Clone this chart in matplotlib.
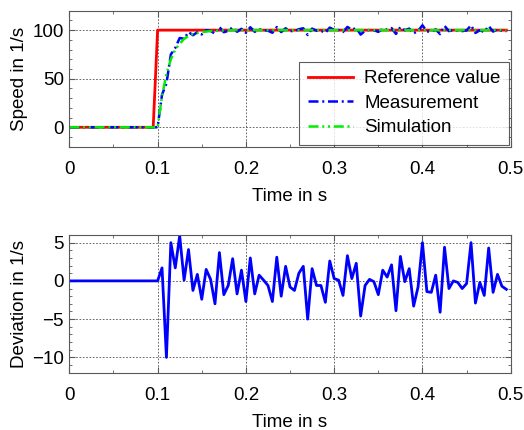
import numpy as np
import matplotlib
matplotlib.use('Agg')
import matplotlib.pyplot as plt
from matplotlib.ticker import MultipleLocator, FixedLocator, FixedFormatter

plt.rcParams['font.family'] = ['Liberation Sans', 'DejaVu Sans']

# sample times (5 ms steps)
time = np.linspace(0, 0.495, 100)

reference = [0]*20 + [100]*80

simulation = [0]*20 + [0, 32, 55, 70, 80, 86, 91, 94, 96, 97, 98, 98.5, 99, 99.3, 99.5, 99.7, 99.8] + [100]*63

measurement = [0]*20 + [0, 33.7, 45, 75, 81.7, 91.9, 91.1, 98.1, 94.75, 97.85, 95.6, 100, 99.2, 96.3, 103.2, 97.9, 99.2,
	102.9, 98.3, 101.4, 97.3, 103, 98.3, 100.75, 100.1, 99.4, 97.3,
	103.1, 98, 101.9, 99.2, 98.75, 101, 101.9, 95, 101.6, 99.4,
	99.4, 97.2, 102.6, 100.3, 100.1, 98.1, 103.3, 100.3, 102.3, 95.4,
	99.4, 100.2, 99.9, 98.2, 101.4, 100.5, 102.1, 96.1, 103.2, 99.9,
	101.6, 96.7, 99.2, 105, 98.6, 98.5, 100.75, 95.9, 104.4, 99,
	100, 99.8, 99, 99.65, 105, 97.1, 99.8, 98.1, 104.3, 98.5,
	100.85, 99.3, 98.9]

deviation = [0]*20 + [0, 1.7, -10, 5, 1.7, 5.9, 0.1, 4.1, -1.25, 0.85,
	-2.4, 1.5, 0.2, -3, 3.7, -1.8, -0.6, 2.9, -1.7, 1.4,
	-2.7, 3.0, -1.7, 0.75, 0.1, -0.6, -2.7, 3.1, -2, 1.9,
	-0.8, -1.25, 1, 1.9, -5, 1.6, -0.6, -0.6, -2.8, 2.6,
	0.3, 0.1, -1.9, 3.3, 0.3, 2.3, -4.6, -0.6, 0.2, -0.1,
	-1.8, 1.4, 0.5, 2.1, -3.9, 3.2, -0.1, 1.6, -3.3, -0.8,
	5, -1.4, -1.5, 0.75, -4.1, 4.4, -1, 0, -0.2, -1,
	-0.35, 5, -2.9, -0.2, -1.9, 4.3, -1.5, 0.85, -0.7, -1.1]

xticks = [0, 0.1, 0.2, 0.3, 0.4, 0.5]
xticklabels = ['0', '0.1', '0.2', '0.3', '0.4', '0.5']

fs = 13.5

def style_axes(ax, yminor):
	ax.set_xlim(0, 0.5)
	ax.xaxis.set_major_locator(FixedLocator(xticks))
	ax.xaxis.set_major_formatter(FixedFormatter(xticklabels))
	ax.xaxis.set_minor_locator(MultipleLocator(0.05))
	ax.yaxis.set_minor_locator(MultipleLocator(yminor))
	ax.tick_params(which='both', direction='in', top=True, right=True, colors='0.35', labelcolor='black', labelsize=fs)
	ax.tick_params(which='major', length=4)
	ax.tick_params(which='minor', length=2)
	ax.tick_params(axis='x', pad=10)
	ax.tick_params(axis='y', pad=4)
	for s in ax.spines.values():
		s.set_color('0.35')
	ax.grid(True, which='major', linestyle=(0, (2, 2)), color='0.3', linewidth=0.6)
	ax.set_xlabel('Time in s', fontsize=fs)
	ax.xaxis.set_label_coords(0.5, -0.30)

fig = plt.figure(figsize=(5.24, 4.30), dpi=100)

ax1 = fig.add_axes([0.1323, 0.6588, 0.8424, 0.3163])
ax1.plot(time, reference, color='red', linewidth=2, label='Reference value')
ax1.plot(time, measurement, color='blue', linewidth=1.8, linestyle=(0, (4, 1.5, 0.8, 1.5)), label='Measurement')
ax1.plot(time, simulation, color='#00ee00', linewidth=1.8, linestyle=(0, (4, 1.5, 0.8, 1.5, 0.8, 1.5)), label='Simulation')
ax1.set_ylim(-20, 120)
ax1.set_yticks([0, 50, 100])
style_axes(ax1, 10)
ax1.set_ylabel('Speed in 1/s', fontsize=fs)
ax1.yaxis.set_label_coords(-0.094, 0.5)
leg = ax1.legend(loc='lower right', fontsize=fs, frameon=True, fancybox=False, borderaxespad=0.1,
	handlelength=2.4, handletextpad=0.6, labelspacing=0.4, borderpad=0.45)
leg.get_frame().set_edgecolor('0.2')
leg.get_frame().set_linewidth(0.8)

ax2 = fig.add_axes([0.1323, 0.1333, 0.8424, 0.3202])
ax2.plot(time, deviation, color='blue', linewidth=2)
ax2.set_ylim(-12, 6)
ax2.set_yticks([-10, -5, 0, 5])
style_axes(ax2, 1)
ax2.set_ylabel('Deviation in 1/s', fontsize=fs)
ax2.yaxis.set_label_coords(-0.094, 0.5)

fig.savefig('out.png', dpi=100)
